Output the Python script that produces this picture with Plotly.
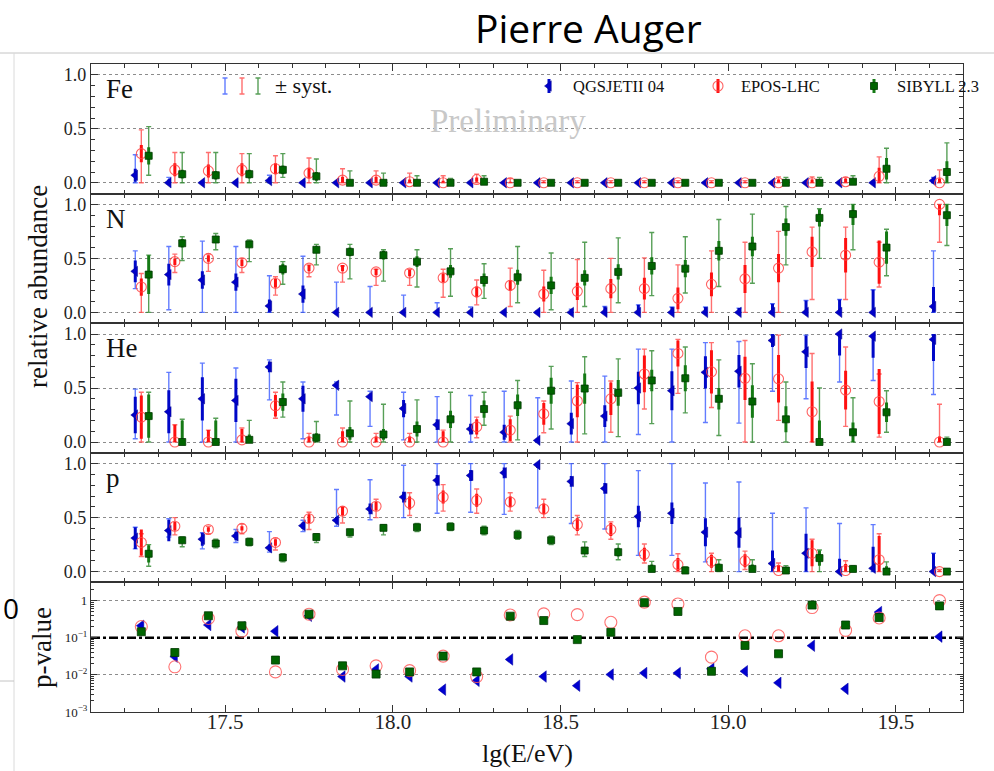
import numpy as np
import plotly.graph_objects as go
from plotly.subplots import make_subplots

# ---------------- data ----------------
lgE = [17.25, 17.35, 17.45, 17.55, 17.65, 17.75, 17.85, 17.95, 18.05, 18.15, 18.25, 18.35,
       18.45, 18.55, 18.65, 18.75, 18.85, 18.95, 19.05, 19.15, 19.25, 19.35, 19.45, 19.63]
models = ["QGSJETII 04", "EPOS-LHC", "SIBYLL 2.3"]
elements = ["Fe", "N", "He", "p"]

# Fe
fe_qgs = [0.07, 0.0, 0.0, 0.0, 0.02, 0.0, 0.0, 0.0, 0.0, 0.0, 0.0, 0.0, 0.0, 0.0, 0.0, 0.0, 0.0, 0.0, 0.0, 0.0, 0.0, 0.0, 0.0, 0.02]
fe_qgs_lo = [0.0, 0.0, 0.0, 0.0, 0.0, 0.0, 0.0, 0.0, 0.0, 0.0, 0.0, 0.0, 0.0, 0.0, 0.0, 0.0, 0.0, 0.0, 0.0, 0.0, 0.0, 0.0, 0.0, 0.0]
fe_qgs_hi = [0.26, 0.05, 0.01, 0.01, 0.07, 0.01, 0.0, 0.0, 0.0, 0.0, 0.0, 0.0, 0.0, 0.0, 0.0, 0.0, 0.0, 0.0, 0.0, 0.0, 0.0, 0.0, 0.0, 0.05]
fe_qgs_st = [0.06, 0.03, 0.0, 0.0, 0.03, 0.0, 0.0, 0.0, 0.0, 0.0, 0.0, 0.0, 0.0, 0.0, 0.0, 0.0, 0.0, 0.0, 0.0, 0.0, 0.0, 0.0, 0.0, 0.03]
fe_epos = [0.27, 0.12, 0.11, 0.12, 0.13, 0.09, 0.025, 0.025, 0.01, 0.0, 0.03, 0.0, 0.0, 0.0, 0.0, 0.0, 0.0, 0.0, 0.0, 0.0, 0.0, 0.01, 0.06, 0.0]
fe_epos_lo = [0.0, 0.0, 0.0, 0.0, 0.0, 0.0, 0.0, 0.0, 0.0, 0.0, 0.0, 0.0, 0.0, 0.0, 0.0, 0.0, 0.0, 0.0, 0.0, 0.0, 0.0, 0.0, 0.0, 0.0]
fe_epos_hi = [0.49, 0.28, 0.28, 0.27, 0.25, 0.23, 0.13, 0.11, 0.09, 0.065, 0.08, 0.04, 0.02, 0.02, 0.02, 0.02, 0.02, 0.02, 0.02, 0.055, 0.055, 0.05, 0.24, 0.12]
fe_epos_st = [0.08, 0.06, 0.06, 0.06, 0.05, 0.05, 0.03, 0.03, 0.02, 0.02, 0.02, 0.01, 0.01, 0.01, 0.01, 0.01, 0.01, 0.01, 0.01, 0.03, 0.03, 0.03, 0.08, 0.04]
fe_sib = [0.25, 0.08, 0.07, 0.08, 0.12, 0.06, 0.0, 0.0, 0.0, 0.0, 0.01, 0.0, 0.0, 0.0, 0.0, 0.0, 0.0, 0.0, 0.0, 0.0, 0.0, 0.01, 0.13, 0.10]
fe_sib_lo = [0.07, 0.0, 0.0, 0.0, 0.05, 0.0, 0.0, 0.0, 0.0, 0.0, 0.0, 0.0, 0.0, 0.0, 0.0, 0.0, 0.0, 0.0, 0.0, 0.0, 0.0, 0.0, 0.0, 0.0]
fe_sib_hi = [0.52, 0.28, 0.28, 0.27, 0.27, 0.22, 0.11, 0.09, 0.065, 0.04, 0.065, 0.02, 0.02, 0.02, 0.02, 0.02, 0.02, 0.02, 0.02, 0.05, 0.05, 0.065, 0.32, 0.37]
fe_sib_st = [0.08, 0.04, 0.04, 0.04, 0.04, 0.04, 0.02, 0.02, 0.02, 0.01, 0.02, 0.01, 0.01, 0.01, 0.01, 0.01, 0.01, 0.01, 0.01, 0.03, 0.03, 0.03, 0.10, 0.10]

# N
n_qgs = [0.38, 0.35, 0.30, 0.28, 0.06, 0.17, 0.0, 0.0, 0.0, 0.0, 0.0, 0.0, 0.0, 0.0, 0.0, 0.0, 0.0, 0.0, 0.0, 0.0, 0.0, 0.0, 0.0, 0.055]
n_qgs_lo = [0.22, 0.025, 0.0, 0.0, 0.0, 0.0, 0.0, 0.0, 0.0, 0.0, 0.0, 0.0, 0.0, 0.0, 0.0, 0.0, 0.0, 0.0, 0.0, 0.0, 0.0, 0.0, 0.0, 0.0]
n_qgs_hi = [0.57, 0.61, 0.66, 0.61, 0.34, 0.52, 0.28, 0.24, 0.16, 0.09, 0.05, 0.01, 0.01, 0.03, 0.055, 0.07, 0.05, 0.05, 0.04, 0.08, 0.11, 0.12, 0.21, 0.57]
n_qgs_st = [0.10, 0.10, 0.08, 0.08, 0.06, 0.08, 0.02, 0.02, 0.02, 0.02, 0.02, 0.01, 0.01, 0.03, 0.055, 0.07, 0.05, 0.05, 0.04, 0.08, 0.11, 0.12, 0.21, 0.18]
n_epos = [0.235, 0.47, 0.50, 0.46, 0.27, 0.41, 0.41, 0.375, 0.365, 0.32, 0.19, 0.25, 0.17, 0.195, 0.22, 0.22, 0.13, 0.26, 0.31, 0.41, 0.56, 0.53, 0.465, 1.0]
n_epos_lo = [0.0, 0.37, 0.38, 0.37, 0.16, 0.33, 0.28, 0.25, 0.25, 0.14, 0.07, 0.055, 0.0, 0.0, 0.0, 0.0, 0.0, 0.0, 0.0, 0.0, 0.12, 0.12, 0.235, 0.65]
n_epos_hi = [0.36, 0.54, 0.54, 0.50, 0.33, 0.44, 0.43, 0.40, 0.40, 0.40, 0.30, 0.41, 0.39, 0.49, 0.50, 0.505, 0.44, 0.57, 0.65, 0.75, 0.79, 0.79, 0.65, 1.0]
n_epos_st = [0.08, 0.03, 0.03, 0.03, 0.04, 0.03, 0.03, 0.03, 0.03, 0.04, 0.05, 0.05, 0.07, 0.08, 0.09, 0.10, 0.10, 0.11, 0.13, 0.13, 0.14, 0.16, 0.20, 0.10]
n_sib = [0.35, 0.64, 0.675, 0.63, 0.40, 0.58, 0.56, 0.53, 0.47, 0.38, 0.30, 0.325, 0.25, 0.32, 0.375, 0.43, 0.405, 0.57, 0.61, 0.79, 0.875, 0.91, 0.60, 0.90]
n_sib_lo = [0.0, 0.48, 0.58, 0.47, 0.26, 0.44, 0.31, 0.29, 0.235, 0.15, 0.13, 0.09, 0.025, 0.055, 0.09, 0.155, 0.18, 0.24, 0.27, 0.44, 0.50, 0.58, 0.34, 0.62]
n_sib_hi = [0.53, 0.70, 0.73, 0.67, 0.47, 0.63, 0.63, 0.58, 0.58, 0.59, 0.45, 0.61, 0.55, 0.65, 0.69, 0.74, 0.70, 0.86, 0.91, 0.98, 0.96, 1.0, 0.77, 1.0]
n_sib_st = [0.18, 0.04, 0.03, 0.03, 0.05, 0.03, 0.04, 0.04, 0.05, 0.06, 0.06, 0.07, 0.08, 0.07, 0.07, 0.08, 0.08, 0.09, 0.09, 0.08, 0.08, 0.10, 0.15, 0.10]

# He
he_qgs = [0.25, 0.28, 0.40, 0.385, 0.695, 0.40, 0.525, 0.42, 0.31, 0.16, 0.12, 0.09, 0.015, 0.17, 0.24, 0.50, 0.475, 0.645, 0.655, 0.94, 0.835, 1.0, 0.98, 0.95]
he_qgs_lo = [0.03, 0.0, 0.0, 0.0, 0.39, 0.03, 0.25, 0.145, 0.02, 0.0, 0.0, 0.0, 0.0, 0.0, 0.0, 0.07, 0.0, 0.18, 0.175, 0.47, 0.40, 0.555, 0.57, 0.44]
he_qgs_hi = [0.49, 0.645, 0.73, 0.685, 0.76, 0.555, 0.555, 0.47, 0.46, 0.42, 0.43, 0.47, 0.41, 0.565, 0.61, 0.86, 0.86, 0.92, 0.93, 0.99, 0.99, 1.0, 0.99, 0.99]
he_qgs_st = [0.17, 0.20, 0.20, 0.20, 0.05, 0.12, 0.02, 0.02, 0.08, 0.05, 0.05, 0.07, 0.02, 0.10, 0.10, 0.15, 0.18, 0.15, 0.15, 0.06, 0.15, 0.20, 0.20, 0.20]
he_epos = [0.23, 0.0, 0.0, 0.02, 0.335, 0.0, 0.0, 0.0, 0.0, 0.0, 0.14, 0.11, 0.26, 0.38, 0.40, 0.63, 0.82, 0.65, 0.59, 0.585, 0.28, 0.48, 0.375, 0.0]
he_epos_lo = [0.0, 0.0, 0.0, 0.0, 0.22, 0.0, 0.0, 0.0, 0.0, 0.0, 0.04, 0.0, 0.085, 0.0, 0.09, 0.305, 0.45, 0.32, 0.0, 0.20, 0.0, 0.145, 0.045, 0.0]
he_epos_hi = [0.46, 0.16, 0.11, 0.13, 0.46, 0.08, 0.13, 0.08, 0.08, 0.11, 0.23, 0.24, 0.38, 0.55, 0.565, 0.86, 0.95, 0.92, 0.94, 0.99, 0.82, 0.88, 0.63, 0.35]
he_epos_st = [0.20, 0.16, 0.11, 0.10, 0.10, 0.05, 0.10, 0.05, 0.05, 0.10, 0.07, 0.10, 0.10, 0.15, 0.15, 0.17, 0.12, 0.20, 0.20, 0.22, 0.28, 0.18, 0.30, 0.05]
he_sib = [0.24, 0.0, 0.0, 0.02, 0.37, 0.04, 0.08, 0.07, 0.12, 0.21, 0.305, 0.34, 0.475, 0.495, 0.455, 0.57, 0.59, 0.40, 0.375, 0.21, 0.0, 0.09, 0.275, 0.0]
he_sib_lo = [0.0, 0.0, 0.0, 0.0, 0.23, 0.0, 0.0, 0.0, 0.0, 0.0, 0.155, 0.02, 0.12, 0.075, 0.05, 0.17, 0.27, 0.06, 0.0, 0.0, 0.0, 0.0, 0.09, 0.0]
he_sib_hi = [0.46, 0.21, 0.22, 0.20, 0.555, 0.19, 0.38, 0.35, 0.39, 0.46, 0.46, 0.57, 0.70, 0.79, 0.77, 0.845, 0.88, 0.76, 0.725, 0.555, 0.50, 0.41, 0.475, 0.045]
he_sib_st = [0.20, 0.20, 0.20, 0.05, 0.08, 0.04, 0.06, 0.05, 0.07, 0.08, 0.08, 0.10, 0.12, 0.14, 0.12, 0.10, 0.12, 0.10, 0.15, 0.12, 0.20, 0.09, 0.09, 0.03]

# p
p_qgs = [0.31, 0.38, 0.30, 0.33, 0.22, 0.425, 0.475, 0.58, 0.69, 0.845, 0.89, 0.915, 0.99, 0.835, 0.77, 0.51, 0.54, 0.365, 0.36, 0.075, 0.17, 0.0, 0.03, 0.0]
p_qgs_lo = [0.21, 0.32, 0.21, 0.27, 0.18, 0.37, 0.42, 0.48, 0.50, 0.54, 0.55, 0.53, 0.59, 0.445, 0.395, 0.15, 0.15, 0.09, 0.0, 0.0, 0.0, 0.0, 0.0, 0.0]
p_qgs_hi = [0.41, 0.49, 0.36, 0.39, 0.37, 0.475, 0.76, 0.85, 0.985, 1.0, 1.0, 1.0, 1.0, 1.0, 1.0, 0.935, 1.0, 0.82, 0.83, 0.54, 0.59, 0.445, 0.435, 0.17]
p_qgs_st = [0.10, 0.10, 0.06, 0.04, 0.03, 0.03, 0.03, 0.05, 0.05, 0.05, 0.05, 0.05, 0.03, 0.05, 0.05, 0.10, 0.10, 0.13, 0.14, 0.12, 0.18, 0.12, 0.20, 0.17]
p_epos = [0.27, 0.42, 0.39, 0.40, 0.27, 0.49, 0.56, 0.605, 0.635, 0.69, 0.66, 0.645, 0.58, 0.435, 0.39, 0.16, 0.065, 0.095, 0.10, 0.01, 0.17, 0.01, 0.11, 0.0]
p_epos_lo = [0.14, 0.34, 0.35, 0.35, 0.20, 0.39, 0.45, 0.50, 0.52, 0.56, 0.54, 0.56, 0.50, 0.34, 0.30, 0.08, 0.0, 0.0, 0.02, 0.0, 0.0, 0.0, 0.0, 0.0]
p_epos_hi = [0.35, 0.50, 0.42, 0.44, 0.31, 0.55, 0.60, 0.67, 0.73, 0.805, 0.765, 0.73, 0.67, 0.52, 0.46, 0.256, 0.165, 0.17, 0.19, 0.08, 0.30, 0.10, 0.35, 0.02]
p_epos_st = [0.12, 0.04, 0.02, 0.02, 0.03, 0.04, 0.04, 0.04, 0.06, 0.06, 0.06, 0.05, 0.05, 0.06, 0.06, 0.06, 0.06, 0.06, 0.06, 0.05, 0.12, 0.06, 0.22, 0.01]
p_sib = [0.165, 0.29, 0.26, 0.275, 0.13, 0.32, 0.365, 0.405, 0.41, 0.415, 0.38, 0.34, 0.29, 0.195, 0.18, 0.025, 0.01, 0.035, 0.025, 0.01, 0.125, 0.025, 0.0, 0.0]
p_sib_lo = [0.05, 0.23, 0.22, 0.24, 0.09, 0.27, 0.32, 0.34, 0.37, 0.38, 0.34, 0.30, 0.25, 0.14, 0.11, 0.0, 0.0, 0.0, 0.0, 0.0, 0.0, 0.0, 0.0, 0.0]
p_sib_hi = [0.25, 0.32, 0.30, 0.31, 0.165, 0.35, 0.39, 0.435, 0.445, 0.45, 0.42, 0.38, 0.33, 0.275, 0.256, 0.095, 0.045, 0.11, 0.11, 0.055, 0.20, 0.055, 0.09, 0.01]
p_sib_st = [0.08, 0.02, 0.02, 0.02, 0.02, 0.02, 0.02, 0.02, 0.02, 0.02, 0.02, 0.02, 0.02, 0.03, 0.04, 0.04, 0.03, 0.04, 0.04, 0.03, 0.07, 0.03, 0.05, 0.01]

# p-values of the fits
pval_qgs = [0.21, 0.031, 0.22, 0.19, 0.15, 0.39, 0.009, 0.014, 0.009, 0.004, 0.0069, 0.026, 0.009, 0.0051, 0.0102, 0.0112, 0.0112, 0.0145, 0.0125, 0.0061, 0.061, 0.0042, 0.49, 0.107]
pval_epos = [0.20, 0.0165, 0.33, 0.15, 0.012, 0.43, 0.014, 0.0175, 0.013, 0.032, 0.009, 0.41, 0.44, 0.42, 0.26, 0.91, 0.81, 0.030, 0.113, 0.113, 0.65, 0.158, 0.34, 1.0]
pval_sib = [0.145, 0.040, 0.39, 0.21, 0.025, 0.43, 0.0175, 0.0105, 0.012, 0.032, 0.012, 0.38, 0.29, 0.089, 0.14, 0.88, 0.51, 0.0125, 0.062, 0.037, 0.76, 0.22, 0.35, 0.72]
pval_ref = 0.1

fractions = {
    "Fe": [(fe_qgs, fe_qgs_lo, fe_qgs_hi, fe_qgs_st), (fe_epos, fe_epos_lo, fe_epos_hi, fe_epos_st), (fe_sib, fe_sib_lo, fe_sib_hi, fe_sib_st)],
    "N": [(n_qgs, n_qgs_lo, n_qgs_hi, n_qgs_st), (n_epos, n_epos_lo, n_epos_hi, n_epos_st), (n_sib, n_sib_lo, n_sib_hi, n_sib_st)],
    "He": [(he_qgs, he_qgs_lo, he_qgs_hi, he_qgs_st), (he_epos, he_epos_lo, he_epos_hi, he_epos_st), (he_sib, he_sib_lo, he_sib_hi, he_sib_st)],
    "p": [(p_qgs, p_qgs_lo, p_qgs_hi, p_qgs_st), (p_epos, p_epos_lo, p_epos_hi, p_epos_st), (p_sib, p_sib_lo, p_sib_hi, p_sib_st)],
}
pvalues = [pval_qgs, pval_epos, pval_sib]

# ---------------- styles ----------------
SERIF = "Liberation Serif, Times New Roman, serif"
styles = [
    dict(off=-0.018, symbol="triangle-left", size=9, color="#0000c8", line="#00008a", lw=0.5,
         stat="#0008c8", syst="rgba(45,80,255,0.75)"),
    dict(off=0.0, symbol="circle-open", size=10, color="rgba(255,70,70,0.85)", line="rgba(255,70,70,0.85)", lw=1.1,
         stat="#ff1010", syst="rgba(255,75,75,0.8)"),
    dict(off=0.022, symbol="square", size=7, color="#006400", line="#003a00", lw=0.8,
         stat="#157a15", syst="rgba(45,135,45,0.8)"),
]

W, H = 994, 771
L, R, T, B = 91, 31, 64, 59
PW, PH = W - L - R, H - T - B


def px(x):
    return (x - L) / PW


def py(y):
    return (H - B - y) / PH


fig = make_subplots(rows=5, cols=1, shared_xaxes=True, vertical_spacing=0)

x = np.array(lgE)
for r, el in enumerate(elements, start=1):
    for m, st in enumerate(styles):
        val, lo, hi, s = (np.array(a, dtype=float) for a in fractions[el][m])
        xx = x + st["off"]
        fig.add_trace(go.Scatter(
            x=xx, y=val, mode="markers", marker=dict(size=2, opacity=0),
            error_y=dict(type="data", symmetric=False, array=np.clip(hi - val, 0, None),
                         arrayminus=np.clip(val - lo, 0, None), color=st["syst"], thickness=1.4, width=2.5),
            showlegend=False, hoverinfo="skip"), row=r, col=1)
        fig.add_trace(go.Scatter(
            x=xx, y=val, mode="markers",
            marker=dict(symbol=st["symbol"], size=st["size"], color=st["color"],
                        line=dict(color=st["line"], width=st["lw"])),
            error_y=dict(type="data", symmetric=False, array=np.minimum(s, 1 - val),
                         arrayminus=np.minimum(s, val), color=st["stat"], thickness=3, width=0),
            name=models[m], showlegend=False), row=r, col=1)

# p-value panel
fig.add_trace(go.Scatter(x=[17.1, 19.7], y=[pval_ref, pval_ref], mode="lines",
                         line=dict(color="black", width=2.5, dash="dashdot"),
                         showlegend=False, hoverinfo="skip"), row=5, col=1)
pv_styles = [
    dict(symbol="triangle-left", size=10, color="#0000d0", line=dict(color="#0000a0", width=0.5)),
    dict(symbol="circle-open", size=12, color="rgba(255,90,90,0.85)", line=dict(color="rgba(255,90,90,0.85)", width=1.1)),
    dict(symbol="square", size=8, color="#006400", line=dict(color="#003a00", width=0.8)),
]
for m in range(3):
    fig.add_trace(go.Scatter(x=lgE, y=pvalues[m], mode="markers", marker=pv_styles[m],
                             showlegend=False, name=models[m]), row=5, col=1)

# ---------------- axes ----------------
axis_common = dict(showline=True, linecolor="#333", linewidth=1.1, mirror="allticks",
                   ticks="inside", tickcolor="#333", zeroline=False)
for r in range(1, 6):
    fig.update_xaxes(range=[17.1, 19.7], tickvals=[17.5, 18.0, 18.5, 19.0, 19.5],
                     ticktext=["17.5", "18.0", "18.5", "19.0", "19.5"], ticklen=7, tickwidth=1.1,
                     minor=dict(ticks="inside", dtick=0.1, tick0=17.1, ticklen=4, tickcolor="#333"),
                     showgrid=False, showticklabels=(r == 5),
                     tickfont=dict(family=SERIF, size=21, color="#222"), row=r, col=1, **axis_common)
fig.update_xaxes(ticklabelstandoff=-9, row=5, col=1)
for r in range(1, 5):
    top = 1 - (r - 1) * 0.2
    fig.update_yaxes(range=[-0.1, 1.1], tickvals=[0.0, 0.5, 1.0], ticktext=["0.0", "0.5", "1.0"],
                     ticklen=7, tickwidth=1.1,
                     minor=dict(ticks="inside", dtick=0.1, tick0=0, ticklen=4, tickcolor="#333"),
                     showgrid=True, gridcolor="#8c8c8c", griddash="dot", gridwidth=1,
                     tickfont=dict(family=SERIF, size=18, color="#222"),
                     domain=[top - 0.2, top], row=r, col=1, **axis_common)
log_minor = [k * 10.0 ** e for e in (-3, -2, -1, 0) for k in range(2, 10)]
fig.update_yaxes(type="log", range=[-3, 0.49], tickvals=[1e-3, 1e-2, 1e-1, 1],
                 ticktext=["10<sup>−3</sup>", "10<sup>−2</sup>", "10<sup>−1</sup>", "1"],
                 ticklen=6, tickwidth=1.1,
                 minor=dict(ticks="inside", ticklen=3, tickcolor="#333", tickvals=log_minor, showgrid=False),
                 showgrid=True, gridcolor="#8c8c8c", griddash="dot", gridwidth=1,
                 tickfont=dict(family=SERIF, size=13, color="#222"),
                 domain=[0.0, 0.2], row=5, col=1, **axis_common)

# overlay pixel axes for the legend symbols
fig.update_layout(
    xaxis6=dict(domain=[0, 1], range=[L, W - R], visible=False, anchor="y6", fixedrange=True),
    yaxis6=dict(domain=[0, 1], range=[H - B, T], visible=False, anchor="x6", fixedrange=True),
)
leg_y = 86
syst_x = [225, 242, 258]
for m, st in enumerate(styles):
    fig.add_trace(go.Scatter(x=[syst_x[m]], y=[leg_y], mode="markers", marker=dict(size=2, opacity=0),
                             error_y=dict(type="data", array=[8], color=st["syst"], thickness=1.4, width=2.5),
                             xaxis="x6", yaxis="y6", showlegend=False, hoverinfo="skip"))
leg_mx = [549, 718, 874]
for m, st in enumerate(styles):
    fig.add_trace(go.Scatter(x=[leg_mx[m]], y=[leg_y], mode="markers",
                             marker=dict(symbol=st["symbol"], size=st["size"], color=st["color"],
                                         line=dict(color=st["line"], width=st["lw"])),
                             error_y=dict(type="data", array=[7], color=st["stat"], thickness=3, width=0),
                             xaxis="x6", yaxis="y6", showlegend=False, hoverinfo="skip"))

# ---------------- annotations ----------------
ann = []


def add_text(text, x, y, size, family=SERIF, color="#111", xanchor="center", angle=0):
    ann.append(dict(text=text, x=px(x), y=py(y), xref="paper", yref="paper", xanchor=xanchor,
                    yanchor="middle", textangle=angle, showarrow=False,
                    font=dict(family=family, size=size, color=color)))


panel_tops = [64, 193.6, 323.2, 452.8]
for el, tp in zip(elements, panel_tops):
    add_text(el, 104, tp + 25, 27, xanchor="left")
add_text("± syst.", 273, leg_y - 1, 22, xanchor="left")
leg_tx = [571, 739, 895]
for m in range(3):
    add_text(models[m], leg_tx[m], leg_y, 16.5, xanchor="left")
add_text("Preliminary", 508, 121, 33, color="#c8c8c8")
add_text("relative abundance", 38, 287, 27, angle=-90)
add_text("p-value", 42, 648, 27, angle=-90)
add_text("lg(E/eV)", 527, 753, 26)
add_text("Pierre Auger", 588, 28, 39, family="Open Sans, Lato, sans-serif", color="#000")
add_text("0", 1, 608, 28, family="Open Sans, Lato, sans-serif", color="#000", xanchor="left")

shapes = [
    dict(type="line", xref="paper", yref="paper", x0=px(0), x1=px(W), y0=py(53), y1=py(53),
         line=dict(color="#c4c4c4", width=1)),
    dict(type="line", xref="paper", yref="paper", x0=px(14), x1=px(14), y0=py(53), y1=py(H),
         line=dict(color="#dadada", width=1)),
    dict(type="line", xref="paper", yref="paper", x0=px(0), x1=px(14), y0=py(681), y1=py(681),
         line=dict(color="#c4c4c4", width=1)),
]

fig.update_layout(
    width=W, height=H, margin=dict(l=L, r=R, t=T, b=B),
    paper_bgcolor="white", plot_bgcolor="rgba(0,0,0,0)",
    annotations=ann, shapes=shapes, showlegend=False,
)

fig.write_html("out.html")
